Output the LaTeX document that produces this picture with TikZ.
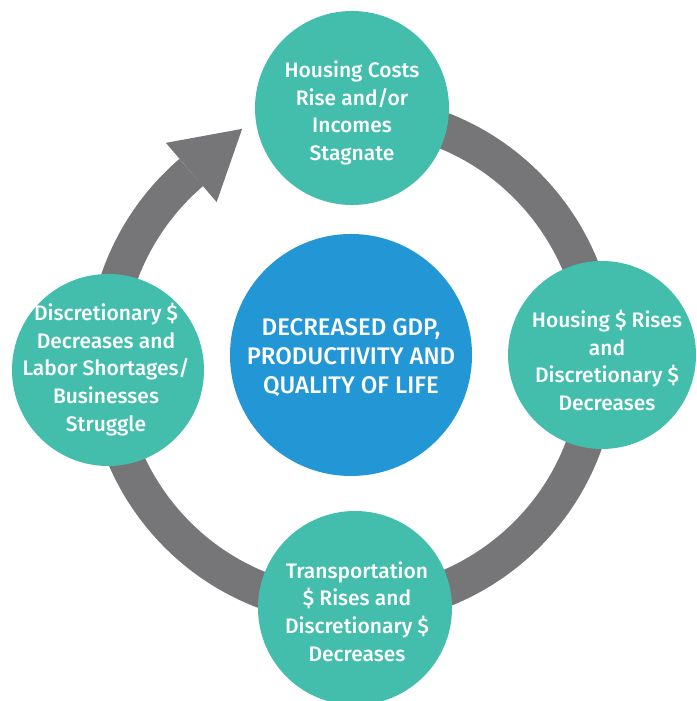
\documentclass[tikz,border=0pt]{standalone}
\usepackage{fontspec}
\setmainfont{Fira Sans}[UprightFont=* Medium]
\usetikzlibrary{calc}
\definecolor{teal}{RGB}{67,190,172}
\definecolor{midblue}{RGB}{35,150,214}
\definecolor{ringgray}{RGB}{118,118,120}
\tikzset{
  stage/.style={circle, fill=teal, inner sep=0pt, minimum size=194pt},
  stagetext/.style={text=white, align=center, inner sep=0pt,
    font=\fontsize{21pt}{27.7pt}\selectfont},
  hub/.style={circle, fill=midblue, inner sep=0pt, minimum size=242pt},
  hubtext/.style={text=white, align=center, inner sep=0pt,
    font=\fontsize{24pt}{29pt}\selectfont},
  ring/.style={draw=ringgray, line width=36pt, line cap=butt},
  ringhead/.style={fill=ringgray}
}
\begin{document}
\begin{tikzpicture}[x=1pt,y=1pt]
\useasboundingbox (0,0) rectangle (696,701);
\coordinate (O) at (352,341);
% ring with arrow
\draw[ring] ($(O)+(80:247pt)$) arc[start angle=80, end angle=-229.4, radius=247pt];
\coordinate (B) at ($(O)+(130.6:247pt)$);
\coordinate (tip) at ($(B)+(40.6:67pt)$);
\coordinate (barbA) at ($(B)+(130.6:39pt)$);
\coordinate (barbB) at ($(B)+(-49.4:39pt)$);
\fill[ringhead] (barbA) -- (tip) -- (barbB) -- cycle;
% circles
\node[hub] (hub) at (351,346) {};
\node[stage] (top) at (352,593) {};
\node[stage, minimum size=188pt] (right) at (602,346) {};
\node[stage] (bottom) at (355,93) {};
\node[stage, minimum size=192pt] (left) at (108,331) {};
% texts
\node[hubtext] (hubt) at (351,343) {DECREASED GDP,\\PRODUCTIVITY AND\\QUALITY OF LIFE};
\node[stagetext] (topt) at (352,588) {Housing Costs\\Rise and/or\\Incomes\\Stagnate};
\node[stagetext] (rightt) at (607,340.5) {Housing \$ Rises\\and\\Discretionary \$\\Decreases};
\node[stagetext] (bottomt) at (357,89.5) {Transportation\\\$ Rises and\\Discretionary \$\\Decreases};
\node[stagetext] (leftt) at (106,331.5) {Discretionary \$\\Decreases and\\Labor Shortages/\\Businesses\\Struggle};
\end{tikzpicture}
\end{document}
